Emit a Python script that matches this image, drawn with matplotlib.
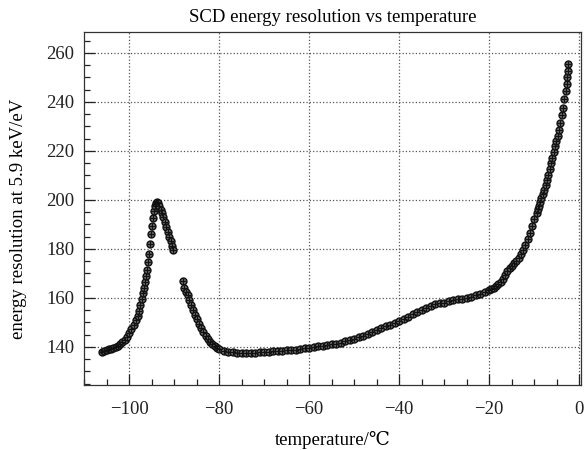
import matplotlib
matplotlib.use('Agg')
import matplotlib.pyplot as plt
from matplotlib.ticker import MultipleLocator

plt.rcParams['font.family'] = ['Liberation Serif', 'DejaVu Serif', 'Noto Sans CJK SC']
plt.rcParams['axes.unicode_minus'] = True

# temperature (deg C) and energy resolution (eV)
temperature = [
    -106.0, -105.5, -105.0, -104.5, -104.0, -103.5, -103.0, -102.5, -102.0, -101.5,
    -101.0, -100.5, -100.0, -99.5, -99.0, -98.5, -98.0, -97.8, -97.5, -97.2,
    -97.0, -96.8, -96.5, -96.2, -96.0, -95.8, -95.6, -95.4, -95.2, -95.0,
    -94.8, -94.5, -94.2, -94.0, -93.8,
    -93.6, -93.3, -93.0, -92.7, -92.4, -92.0, -91.7, -91.4, -91.1, -90.8,
    -90.5, -90.2,
    -88.0, -87.7, -87.4, -87.0, -86.6, -86.2, -85.8, -85.4, -85.0, -84.5,
    -84.0, -83.5, -83.0, -82.5, -82.0, -81.5, -81.0, -80.5, -80.0, -79.0,
    -78.0, -77.0, -76.0, -75.0, -74.0, -73.0, -72.0, -71.0, -70.0, -69.0,
    -68.0, -67.0, -66.0, -65.0, -64.0, -63.0, -62.0, -61.0, -60.0, -59.0,
    -58.0, -57.0, -56.0, -55.0, -54.0, -53.0, -52.0, -51.0, -50.0, -49.0,
    -48.0, -47.0, -46.0, -45.0, -44.0, -43.0, -42.0, -41.0, -40.0, -39.0,
    -38.0, -37.0, -36.0, -35.0, -34.0, -33.0, -32.0, -31.0, -30.0, -29.0,
    -28.0, -27.0, -26.0, -25.0, -24.0, -23.0, -22.0, -21.0, -20.0, -19.5,
    -19.0, -18.5, -18.0, -17.5, -17.0, -16.5, -16.0, -15.5, -15.0, -14.5,
    -14.0, -13.5, -13.0, -12.5, -12.0, -11.5, -11.0, -10.5, -10.0, -9.5,
    -9.2, -9.0, -8.7, -8.4, -8.1, -7.8, -7.5, -7.2, -6.9, -6.6,
    -6.3, -6.0, -5.7, -5.4, -5.1, -4.8, -4.5, -4.2, -3.9, -3.6,
    -3.3, -3.0, -2.8, -2.7, -2.6, -2.5,
]
resolution = [
    138.0, 138.3, 138.6, 138.9, 139.2, 139.6, 139.9, 140.5, 141.2, 142.0,
    142.9, 144.0, 145.5, 147.2, 149.0, 150.8, 152.6, 154.5, 157.0, 159.5,
    162.0, 164.0, 166.5, 169.0, 171.5, 174.5, 178.0, 182.0, 186.0, 189.5,
    192.5, 195.5, 197.5, 198.5, 199.0,
    198.5, 197.5, 196.0, 194.5, 193.0, 191.0, 189.0, 187.0, 185.0, 183.0,
    181.0, 179.5,
    166.9, 164.0, 162.5, 161.0, 159.0, 157.0, 155.0, 153.0, 151.3, 149.5,
    147.5, 146.0, 144.5, 143.2, 142.0, 141.0, 140.2, 139.6, 139.0, 138.4,
    138.0, 137.7, 137.5, 137.4, 137.3, 137.5, 137.6, 137.7, 137.8, 137.9,
    138.1, 138.3, 138.4, 138.5, 138.6, 138.8, 139.0, 139.3, 139.6, 139.9,
    140.2, 140.5, 140.7, 141.0, 141.3, 141.7, 142.2, 142.7, 143.2, 143.8,
    144.5, 145.2, 146.0, 146.8, 147.6, 148.3, 149.0, 149.8, 150.6, 151.4,
    152.3, 153.3, 154.3, 155.2, 156.0, 156.7, 157.3, 157.7, 158.0, 158.5,
    159.0, 159.4, 159.7, 160.0, 160.5, 161.1, 161.7, 162.3, 163.0, 163.5,
    164.1, 164.8, 165.6, 166.6, 167.8, 169.2, 171.0, 172.0, 173.0, 174.0,
    175.0, 176.3, 177.8, 179.5, 181.5, 183.8, 186.5, 189.3, 192.0, 194.5,
    196.2, 197.3, 199.0, 200.8, 202.5, 204.0, 206.0, 208.0, 210.3, 212.6,
    215.0, 217.0, 219.5, 222.0, 224.0, 226.0, 228.5, 231.5, 234.5, 237.6,
    241.0, 244.5, 247.3, 250.0, 252.5, 255.5,
]

fig = plt.figure(figsize=(5.84, 4.5), dpi=100)
ax = fig.add_axes([0.144, 0.145, 0.851, 0.784])

ax.plot(temperature, resolution, linestyle='none', marker='o', markersize=5,
        markerfacecolor='#666666', markeredgecolor='#111111', markeredgewidth=1.0)
ax.plot(temperature, resolution, linestyle='none', marker='+', markersize=4.5,
        color='#111111', markeredgewidth=0.8)

ax.set_xlim(-110, 0.4)
ax.set_ylim(124.5, 268.5)
ax.xaxis.set_major_locator(MultipleLocator(20))
ax.xaxis.set_minor_locator(MultipleLocator(5))
ax.yaxis.set_major_locator(MultipleLocator(20))
ax.yaxis.set_minor_locator(MultipleLocator(5))
ax.tick_params(which='both', direction='in', top=False, right=False,
               labelsize=13.5, colors='#222222')
ax.tick_params(axis='x', pad=12)
ax.tick_params(axis='y', pad=7)
ax.tick_params(which='major', length=8, width=0.9)
ax.tick_params(which='minor', length=4, width=0.9)
ax.grid(True, which='major', linestyle=':', color='#555555', linewidth=0.9)
for s in ax.spines.values():
    s.set_color('#333333')
    s.set_linewidth(0.9)

ax.set_xlabel('temperature/\u2103', fontsize=13.5, labelpad=9)
ax.set_ylabel('energy resolution at 5.9 keV/eV', fontsize=13.5, labelpad=13)
ax.yaxis.set_label_coords(-0.115, 0.47)
ax.set_title('SCD energy resolution vs temperature', fontsize=13.5, pad=7)

fig.savefig('out.png', dpi=100)
plt.close(fig)
